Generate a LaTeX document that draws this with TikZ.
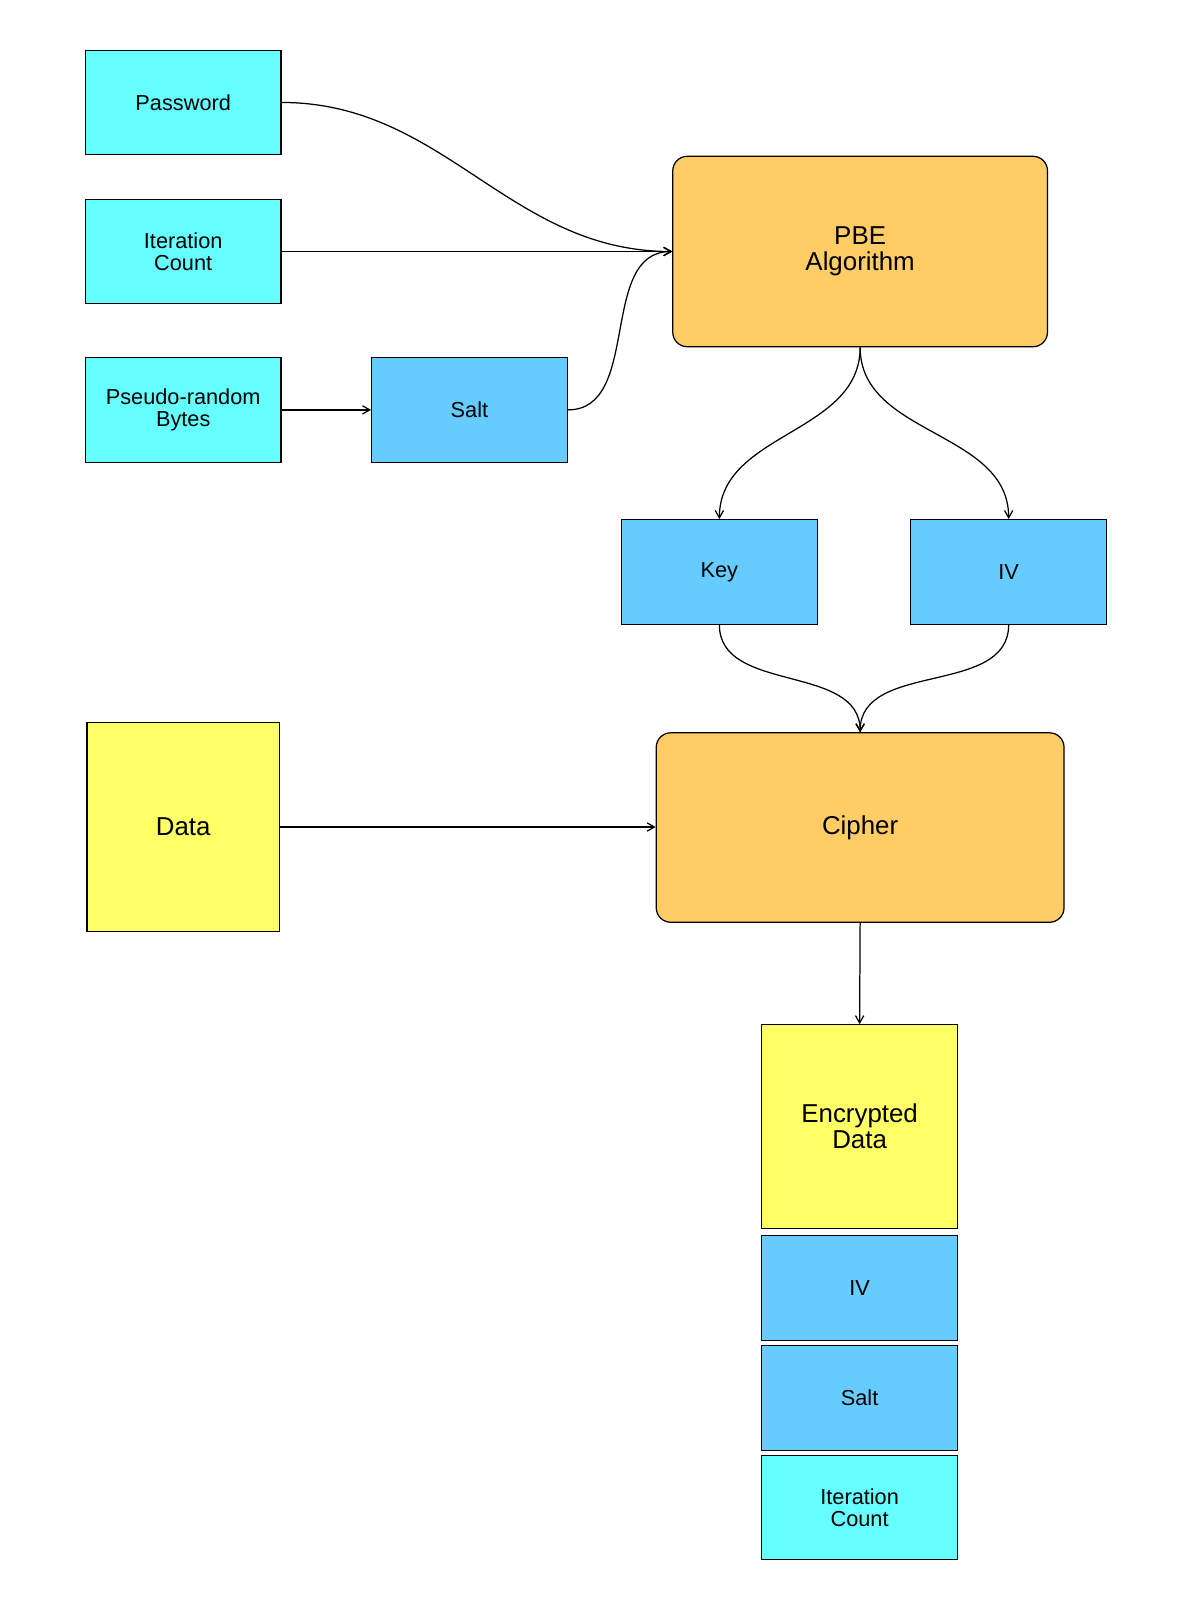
\documentclass[tikz,border=0pt]{standalone}
\usepackage{fontspec}
\setmainfont{Liberation Sans}
\usetikzlibrary{arrows.meta}
\definecolor{cy}{HTML}{66FFFF}
\definecolor{bl}{HTML}{66CCFF}
\definecolor{ye}{HTML}{FFFF66}
\definecolor{orr}{HTML}{FFCC66}
\begin{document}
\begin{tikzpicture}[x=1pt,y=-1pt,
 bx/.style={draw,line width=1.2pt,minimum width=189pt,minimum height=101pt,align=center,font=\fontsize{21}{21}\selectfont,inner sep=0pt},
 big/.style={draw,line width=1.2pt,rounded corners=14pt,fill=orr,align=center,font=\fontsize{25}{25}\selectfont,inner sep=0pt},
 ar/.style={line width=1.2pt,-{Straight Barb[length=7pt,width=8pt]}}]
\useasboundingbox (0,0) rectangle (1153,1569);
\node[bx,fill=cy] (pw) at (177,99) {Password};
\node[bx,fill=cy] (ic) at (177,243) {Iteration\\Count};
\node[bx,fill=cy] (pr) at (177,396) {Pseudo-random\\Bytes};
\node[bx,fill=bl] (salt) at (453.5,396) {Salt};
\node[big,minimum width=362pt,minimum height=184pt] (pbe) at (831,243) {PBE\\Algorithm};
\node[bx,fill=bl] (key) at (695,552.5) {Key};
\node[bx,fill=bl] (iv) at (974.5,552.5) {IV};
\node[bx,fill=ye,minimum width=186pt,minimum height=202pt,font=\fontsize{25}{25}\selectfont] (data) at (177,799) {Data};
\node[big,minimum width=394pt,minimum height=183pt] (ci) at (831,799.5) {Cipher};
\node[bx,fill=ye,minimum height=197pt,font=\fontsize{25}{25}\selectfont] (ed) at (830.5,1088.5) {Encrypted\\Data};
\node[bx,fill=bl] (iv2) at (830.5,1244.5) {IV};
\node[bx,fill=bl] (s2) at (830.5,1350.5) {Salt};
\node[bx,fill=cy] (ic2) at (830.5,1456.5) {Iteration\\Count};
\draw[ar] (pw.east) to[out=0,in=180] (pbe.west);
\draw[ar] (ic.east) -- (pbe.west);
\draw[ar] (salt.east) to[out=0,in=180] (pbe.west);
\draw[ar] (pr.east) -- (salt.west);
\draw[ar] (pbe.south) to[out=-90,in=90] (key.north);
\draw[ar] (pbe.south) to[out=-90,in=90] (iv.north);
\draw[ar] (key.south) to[out=-90,in=90] (ci.north);
\draw[ar] (iv.south) to[out=-90,in=90] (ci.north);
\draw[ar] (data.east) -- (data.east -| ci.west);
\draw[ar] (ci.south) -- (ed.north);
\end{tikzpicture}
\end{document}
